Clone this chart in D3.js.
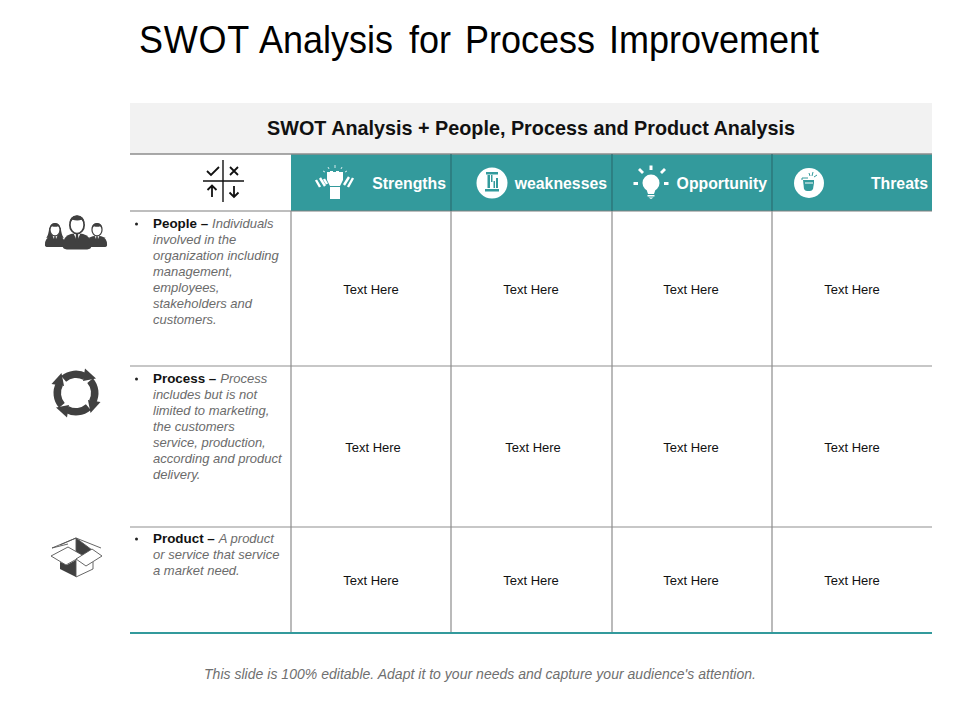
<!DOCTYPE html>
<html>
<head>
<meta charset="utf-8">
<script src="https://cdn.jsdelivr.net/npm/d3@7"></script>
<style>
html, body { margin: 0; padding: 0; background: #fff; }
text { font-family: "Liberation Sans", Arial, sans-serif; }
</style>
</head>
<body>
<script>
var titleWords = ["SWOT", "Analysis", "for", "Process", "Improvement"];
var tableTitle = "SWOT Analysis + People, Process and Product Analysis";
var footerNote = "This slide is 100% editable. Adapt it to your needs and capture your audience's attention.";
var swotHeads = ["Strengths", "weaknesses", "Opportunity", "Threats"];
var rowNames = ["People", "Process", "Product"];
var rowLines = [
	["Individuals", "involved in the", "organization including", "management,", "employees,", "stakeholders and", "customers."],
	["Process", "includes but is not", "limited to marketing,", "the customers", "service, production,", "according and product", "delivery."],
	["A product", "or service that service", "a market need."]
];
var cellText = "Text Here";

var svg = d3.select("body").append("svg").attr("width", 960).attr("height", 720);

// column and row edges of the table
var colEdges = [130, 291, 451, 612, 772, 932];
var rowEdges = [211, 366, 527, 633];
var teal = "#339a9c", dark = "#404040";

// title, words placed one by one because the gaps are uneven
var titleX = [139, 259, 409, 465, 609];
titleWords.forEach(function(w, i) {
	svg.append("text").attr("transform", "translate(" + titleX[i] + ",53) scale(1,1.07)")
		.attr("font-size", 36).attr("letter-spacing", i == 0 ? 0.8 : 0).attr("fill", "#000").text(w);
});

// table title band
svg.append("rect").attr("x", 130).attr("y", 103).attr("width", 802).attr("height", 51).attr("fill", "#f2f2f2");
svg.append("text").attr("x", 531).attr("y", 135).attr("text-anchor", "middle")
	.attr("font-size", 19.8).attr("font-weight", "bold").attr("fill", "#111").text(tableTitle);

// header band
svg.append("rect").attr("x", 291).attr("y", 154).attr("width", 641).attr("height", 57).attr("fill", teal);
svg.append("line").attr("x1", 130).attr("x2", 932).attr("y1", 154).attr("y2", 154).attr("stroke", "#8c8c8c").attr("stroke-width", 1.5);
svg.append("line").attr("x1", 130).attr("x2", 932).attr("y1", 211).attr("y2", 211).attr("stroke", "#7f7f7f").attr("stroke-width", 1.2);

// grid lines
[1, 2].forEach(function(i) {
	svg.append("line").attr("x1", 130).attr("x2", 932).attr("y1", rowEdges[i]).attr("y2", rowEdges[i])
		.attr("stroke", "#b5b5b5").attr("stroke-width", 1.5);
});
colEdges.slice(1, 5).forEach(function(x, i) {
	svg.append("line").attr("x1", x).attr("x2", x).attr("y1", 211).attr("y2", 633)
		.attr("stroke", "#8c8c8c").attr("stroke-width", 1.2);
	if (i > 0) svg.append("line").attr("x1", x).attr("x2", x).attr("y1", 154).attr("y2", 211)
		.attr("stroke", "#2b6f72").attr("stroke-width", 1.2);
});
svg.append("line").attr("x1", 130).attr("x2", 932).attr("y1", 633).attr("y2", 633)
	.attr("stroke", teal).attr("stroke-width", 2);

// header labels
var headRight = [446, 607, 767, 928];
swotHeads.forEach(function(h, i) {
	svg.append("text").attr("x", headRight[i]).attr("y", 188.5).attr("text-anchor", "end")
		.attr("font-size", 15.8).attr("font-weight", "bold").attr("fill", "#fff").text(h);
});

// left column text
var rowTop = [228, 383, 543];
rowNames.forEach(function(name, r) {
	var y0 = rowTop[r];
	svg.append("circle").attr("cx", 136.5).attr("cy", y0 - 4).attr("r", 1.5).attr("fill", "#222");
	var first = svg.append("text").attr("x", 153).attr("y", y0).attr("font-size", 13.4);
	first.append("tspan").attr("font-weight", "bold").attr("fill", "#111").text(name + " \u2013");
	first.append("tspan").attr("dx", 4).attr("font-style", "italic").attr("fill", "#6b6b6b").attr("font-size", 13).text(rowLines[r][0]);
	rowLines[r].slice(1).forEach(function(line, j) {
		svg.append("text").attr("x", 153).attr("y", y0 + 16 * (j + 1)).attr("font-size", 13)
			.attr("font-style", "italic").attr("fill", "#6b6b6b").text(line);
	});
});

// cell text
var cellX = [[371, 531, 691, 852], [373, 533, 691, 852], [371, 531, 691, 852]];
var cellY = [294, 452, 585];
cellX.forEach(function(xs, r) {
	xs.forEach(function(x) {
		svg.append("text").attr("x", x).attr("y", cellY[r]).attr("text-anchor", "middle")
			.attr("font-size", 13).attr("fill", "#111").text(cellText);
	});
});

// footer
svg.append("text").attr("x", 480).attr("y", 679).attr("text-anchor", "middle")
	.attr("font-size", 14).attr("font-style", "italic").attr("fill", "#6f6f6f")
	.attr("textLength", 552).text(footerNote);

// swot quadrant glyph
var q = svg.append("g").attr("fill", "none").attr("stroke", "#111").attr("stroke-width", 1.4);
q.append("line").attr("x1", 223).attr("x2", 223).attr("y1", 160).attr("y2", 202);
q.append("line").attr("x1", 203).attr("x2", 244).attr("y1", 181).attr("y2", 181);
q.append("path").attr("stroke-width", 1.8).attr("d", "M207 171l4 4l8-8");
q.append("path").attr("stroke-width", 1.8).attr("d", "M230 167l8 8M238 167l-8 8");
q.append("path").attr("stroke-width", 1.8).attr("d", "M212 197v-11M207.5 190l4.5-4.5l4.5 4.5");
q.append("path").attr("stroke-width", 1.8).attr("d", "M234 186v11M229.5 192.5l4.5 4.5l4.5-4.5");

// people icon, one figure drawn at unit size and scaled
function person(cx, cy, s, female) {
	var g = svg.append("g").attr("transform", "translate(" + cx + "," + cy + ") scale(" + s + ")");
	g.append("path").attr("fill", dark).attr("d", "M-14 18q0-10 8-12l6-1l6 1q8 2 8 12q0 3-4 3h-20q-4 0-4-3z");
	if (female) g.append("path").attr("fill", dark).attr("d", "M-8-6q-1 10-4 14h24q-3-4-4-14z");
	g.append("path").attr("fill", "#fff").attr("d", "M-3.5 5h7l-3.5 8z");
	g.append("path").attr("fill", dark).attr("d", "M-1 6h2l.6 6l-1.6 3l-1.6-3z");
	g.append("ellipse").attr("cx", 0).attr("cy", -3).attr("rx", 7).attr("ry", 8.5)
		.attr("fill", "#fff").attr("stroke", dark).attr("stroke-width", 1.7);
	g.append("path").attr("fill", dark).attr("d", "M-7.5-4q0-8 7.5-8.5q7.5 .5 7.5 8.5q-1-3-3-4q-4 1.5-9 0q-2 1-3 4z");
}
person(55, 232, 0.72, true);
person(97, 232, 0.72, false);
person(77, 228, 1.02, false);

// process ring of four arrows
var ring = svg.append("g").attr("transform", "translate(76,393)");
var arcGen = d3.arc().innerRadius(15).outerRadius(22.5);
[0, 90, 180, 270].forEach(function(a) {
	var seg = ring.append("g").attr("transform", "rotate(" + a + ")");
	seg.append("path").attr("fill", dark).attr("d", arcGen({ startAngle: -0.72, endAngle: 0.5 }));
	seg.append("path").attr("fill", dark).attr("d", "M9 -24.5L20 -14.5L7 -12z");
});

// product box
var box = svg.append("g").attr("stroke", "#555").attr("stroke-width", 0.9).attr("fill", "#fff");
box.append("path").attr("fill", dark).attr("d", "M76 538L92 550L76 559z");
box.append("path").attr("fill", dark).attr("stroke", "none").attr("d", "M76 560L76 577L60 569V562L67 565z");
box.append("path").attr("fill", "none").attr("d", "M76 577L93 569V562M76 560V577");
box.append("path").attr("d", "M51 556L68 547L83 555.5L66 565z");
box.append("path").attr("d", "M76 559L92 549L102 556L86 566z");
box.append("path").attr("fill", "none").attr("d", "M52 548L76 538L101 548M52 548L68 544M76 538L60 545");

// strengths fist
var fist = svg.append("g").attr("fill", "#fff").attr("stroke", "none");
fist.append("rect").attr("x", 330).attr("y", 187).attr("width", 10).attr("height", 12);
fist.append("path").attr("d", "M327 172h3v-1h3v1h3v-1h3v1h4v8l-3 6h-10l-3-6z");
fist.append("path").attr("stroke", "#fff").attr("stroke-width", 2.4).attr("d", "M316 180l4 7M320 178l5 8M324 179l3 5M353 178l-5 9M349 177l-5 8");
fist.append("path").attr("stroke", "#fff").attr("stroke-width", 0.8).attr("d", "M335 165v3M328 167l1 2M342 167l-1 2M323 171l2 1M347 171l-2 1");

// weaknesses pillar on a disc
svg.append("circle").attr("cx", 492).attr("cy", 183).attr("r", 15.5).attr("fill", "#fff");
var pil = svg.append("g").attr("fill", teal);
pil.append("rect").attr("x", 486).attr("y", 172).attr("width", 12).attr("height", 2.5);
pil.append("rect").attr("x", 487.5).attr("y", 175).attr("width", 2.5).attr("height", 13);
pil.append("rect").attr("x", 491).attr("y", 175).attr("width", 1.5).attr("height", 7);
pil.append("rect").attr("x", 493.5).attr("y", 181).attr("width", 1.5).attr("height", 7);
pil.append("rect").attr("x", 496).attr("y", 178).attr("width", 2).attr("height", 10);
pil.append("rect").attr("x", 485).attr("y", 189).attr("width", 14).attr("height", 2.5);

// opportunity bulb
var bulb = svg.append("g").attr("fill", "#fff");
bulb.append("circle").attr("cx", 651).attr("cy", 183).attr("r", 8.5);
bulb.append("path").attr("d", "M646 188h10l-2 6h-6z");
bulb.append("rect").attr("x", 647.5).attr("y", 195).attr("width", 7).attr("height", 1.5);
bulb.append("path").attr("d", "M648.5 197.5h5l-2.5 1.5z");
bulb.append("rect").attr("x", 649.5).attr("y", 165.5).attr("width", 3).attr("height", 4.5);
bulb.append("rect").attr("x", 633.5).attr("y", 182).attr("width", 4.5).attr("height", 3);
bulb.append("rect").attr("x", 664).attr("y", 182).attr("width", 4.5).attr("height", 3);
bulb.append("path").attr("d", "M638 170l2-2l4 4l-2 2z");
bulb.append("path").attr("d", "M664 168l2 2l-4 4l-2-2z");

// threats cup on a disc
svg.append("circle").attr("cx", 809).attr("cy", 183).attr("r", 15).attr("fill", "#fff");
var cup = svg.append("g").attr("fill", teal);
cup.append("path").attr("d", "M803 180h11v3l-1 6q-1 2-3 2h-3q-2 0-3-2z");
cup.append("path").attr("fill", "none").attr("stroke", "#fff").attr("stroke-width", 1).attr("d", "M805 183h8");
cup.append("path").attr("fill", "none").attr("stroke", teal).attr("stroke-width", 1).attr("d", "M809 173l1 3M813 172l-1 4M817 175l-3 2M802 180v-2h6");
</script>
</body>
</html>
